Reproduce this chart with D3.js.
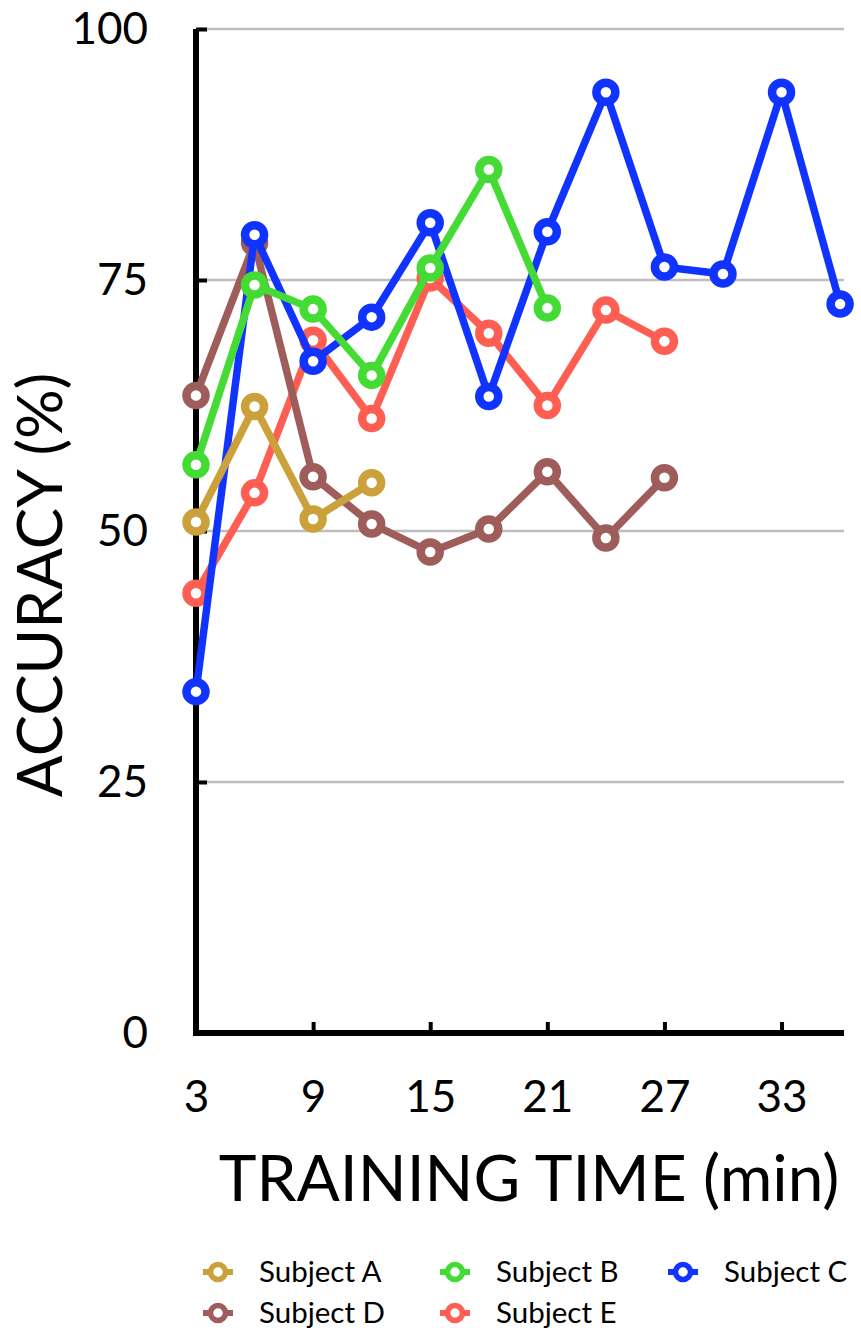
<!DOCTYPE html>
<html>
<head>
<meta charset="utf-8">
<script src="https://cdn.jsdelivr.net/npm/d3@7"></script>
<style>
  html, body { margin: 0; padding: 0; background: #fff; }
  svg { display: block; font-family: Lato, "Open Sans", sans-serif; }
</style>
</head>
<body>
<svg id="chart" width="861" height="1332"></svg>
<script>
// ---- data ----
const times = [3, 6, 9, 12, 15, 18, 21, 24, 27, 30, 33, 36];
const subjectA = [50.9, 62.4, 51.2, 54.8];
const subjectB = [56.6, 74.5, 72.1, 65.5, 76.2, 86.0, 72.2];
const subjectC = [34.0, 79.5, 66.9, 71.3, 80.7, 63.4, 79.8, 93.7, 76.3, 75.6, 93.7, 72.6];
const subjectD = [63.5, 78.7, 55.4, 50.7, 47.9, 50.2, 55.9, 49.3, 55.3];
const subjectE = [43.8, 53.8, 69.0, 61.2, 75.2, 69.7, 62.5, 72.0, 68.9];
const seriesNames = ["Subject A", "Subject B", "Subject C", "Subject D", "Subject E"];
const xTicks = [3, 9, 15, 21, 27, 33];
const yTicks = [0, 25, 50, 75, 100];
const colors = ["#CBA13B", "#44DC34", "#1133FF", "#9E5D5B", "#FF5E52"];

const seriesValues = [subjectA, subjectB, subjectC, subjectD, subjectE];
const series = seriesNames.map((name, i) => ({
  name, color: colors[i],
  points: seriesValues[i].map((v, j) => ({ t: times[j], v }))
}));

const svg = d3.select("#chart");
const x = d3.scaleLinear().domain([3, 36.2]).range([196, 844]);
const y = d3.scaleLinear().domain([0, 100]).range([1033, 29]);

// gridlines
svg.append("g").selectAll("line")
  .data(yTicks.filter(d => d > 0))
  .join("line")
  .attr("x1", x(3) + 3).attr("x2", x(36.2))
  .attr("y1", d => y(d)).attr("y2", d => y(d))
  .attr("stroke", "#bdbdbd").attr("stroke-width", 2.5);

// axes
const xAxis = d3.axisBottom(x).tickValues(xTicks).tickFormat(d3.format("d"))
  .tickSizeInner(-11).tickSizeOuter(0).tickPadding(48);
const gx = svg.append("g").attr("transform", `translate(0,${y(0)})`).call(xAxis);
gx.select(".domain").attr("stroke", "#000").attr("stroke-width", 6)
  .attr("d", `M${x(3) - 3},0H${x(36.2)}`);
gx.selectAll(".tick line").attr("stroke", "#000").attr("stroke-width", 4);
gx.selectAll(".tick text").attr("font-size", 44).attr("fill", "#000")
  .attr("font-family", "Lato, sans-serif");

const yAxis = d3.axisLeft(y).tickValues(yTicks).tickFormat(d3.format("d"))
  .tickSizeInner(-11).tickSizeOuter(0).tickPadding(48);
const gy = svg.append("g").attr("transform", `translate(${x(3)},0)`).call(yAxis);
gy.select(".domain").attr("stroke", "#000").attr("stroke-width", 6)
  .attr("d", `M0,${y(100)}V${y(0) + 3}`);
gy.selectAll(".tick line").attr("stroke", "#000").attr("stroke-width", 4);
gy.selectAll(".tick text").attr("font-size", 44).attr("fill", "#000")
  .attr("font-family", "Lato, sans-serif");

// axis titles
svg.append("text")
  .attr("x", 529).attr("y", 1201)
  .attr("text-anchor", "middle").attr("font-size", 64).attr("fill", "#000")
  .text("TRAINING TIME (min)");
svg.append("text")
  .attr("transform", "translate(62,585) rotate(-90)")
  .attr("text-anchor", "middle").attr("font-size", 62).attr("fill", "#000")
  .text("ACCURACY (%)");

// lines & markers (drawn in reverse so A is on top)
const line = d3.line().x(d => x(d.t)).y(d => y(d.v));
const drawOrder = series.slice().reverse();
const gs = svg.append("g").selectAll("g").data(drawOrder).join("g");
gs.append("path")
  .attr("d", d => line(d.points))
  .attr("fill", "none").attr("stroke", d => d.color)
  .attr("stroke-width", 7.5).attr("stroke-linejoin", "round");
gs.selectAll("circle").data(d => d.points.map(p => ({ ...p, color: d.color })))
  .join("circle")
  .attr("cx", d => x(d.t)).attr("cy", d => y(d.v)).attr("r", 9.5)
  .attr("fill", "#fff").attr("stroke", d => d.color).attr("stroke-width", 8.5);

// legend
const legendPos = [
  { mx: 218, my: 1272 }, { mx: 455, my: 1272 }, { mx: 683, my: 1272 },
  { mx: 218, my: 1313 }, { mx: 455, my: 1313 }
];
const lg = svg.append("g").selectAll("g").data(series).join("g")
  .attr("transform", (d, i) => `translate(${legendPos[i].mx},${legendPos[i].my})`);
lg.append("line").attr("x1", -15).attr("x2", 15)
  .attr("stroke", d => d.color).attr("stroke-width", 6);
lg.append("circle").attr("r", 7.5).attr("fill", "#fff")
  .attr("stroke", d => d.color).attr("stroke-width", 5.5);
lg.append("text").attr("x", 41).attr("dy", "0.35em")
  .attr("font-size", 29.5).attr("fill", "#000").text(d => d.name);
</script>
</body>
</html>
